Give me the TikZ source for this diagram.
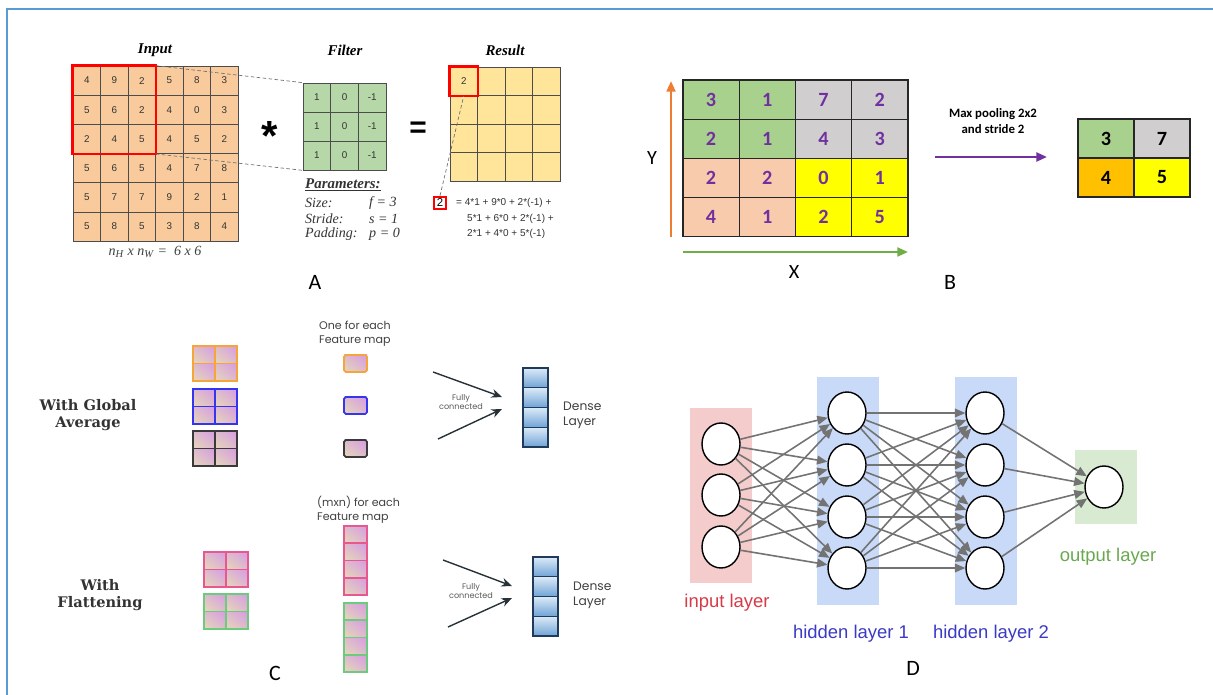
\documentclass[tikz,border=0pt]{standalone}
\usepackage{fontspec}
\setmainfont{Liberation Serif}
\newfontfamily\arialf{Liberation Sans}
\newfontfamily\calibrif{Carlito}
\newfontfamily\poppinsf{Poppins}
\newfontfamily\dejaserif{DejaVu Serif}
\usetikzlibrary{arrows.meta,shapes.geometric,shadings}

% colours
\definecolor{framebl}{HTML}{5B9BD5}
\definecolor{inpeach}{HTML}{F9CB9C}
\definecolor{flgreen}{HTML}{B6D7A8}
\definecolor{resyel}{HTML}{FFE599}
\definecolor{pgreen}{HTML}{A9D18E}
\definecolor{pgray}{HTML}{D0CECE}
\definecolor{ppeach}{HTML}{F8CBAD}
\definecolor{pyel}{HTML}{FFFF00}
\definecolor{porange}{HTML}{FFC000}
\definecolor{ppurple}{HTML}{7030A0}
\definecolor{yorange}{HTML}{ED7D31}
\definecolor{xgreen}{HTML}{70AD47}
\definecolor{mapbeige}{HTML}{E6D8B8}
\definecolor{mapviolet}{HTML}{D79BE3}
\definecolor{mapmid}{HTML}{DDBACD}
\definecolor{mapor}{HTML}{F5A53A}
\definecolor{mapbl}{HTML}{3535F0}
\definecolor{mapbk}{HTML}{3A3A3A}
\definecolor{mappk}{HTML}{E8588F}
\definecolor{mapgr}{HTML}{6CCB7C}
\definecolor{denselt}{HTML}{DCEAF7}
\definecolor{densedk}{HTML}{6FA3D6}
\definecolor{densebd}{HTML}{1F3A5A}
\definecolor{arrowdark}{HTML}{263238}
\definecolor{laypink}{HTML}{F4CCCC}
\definecolor{layblue}{HTML}{C9DAF8}
\definecolor{laygreen}{HTML}{D9EAD3}
\definecolor{inred}{HTML}{D63A47}
\definecolor{hidblue}{HTML}{3A3AC4}
\definecolor{outgreen}{HTML}{6AA84F}

\tikzset{
  gridcell/.style={draw=black!70, line width=0.4pt, inner sep=0pt,
    minimum width=0.55cm, minimum height=0.584cm,
    font=\arialf\fontsize{5.6}{6}\selectfont, text=black!80},
  poolcell/.style={draw=black!85, line width=0.6pt, inner sep=0pt,
    minimum width=1.125cm, minimum height=0.785cm,
    font=\calibrif\bfseries\fontsize{11.5}{12}\selectfont},
  gridtitle/.style={font=\bfseries\itshape\fontsize{8.5}{9}\selectfont},
  paramtxt/.style={anchor=west, font=\itshape\fontsize{8}{9}\selectfont, text=black!80},
  eqline/.style={anchor=west, font=\arialf\fontsize{5.7}{6}\selectfont, text=black!80},
  paneltag/.style={font=\calibrif\fontsize{12.5}{14}\selectfont},
  smalltxt/.style={font=\poppinsf\fontsize{6.3}{8}\selectfont, text=black!75, align=left, anchor=west},
  fctxt/.style={font=\poppinsf\fontsize{4.6}{5.5}\selectfont, text=black!65, align=center},
  sidetxt/.style={font=\dejaserif\bfseries\fontsize{8.3}{9.5}\selectfont, text=black!80, align=center},
  densecell/.style={draw=densebd, line width=0.8pt, top color=denselt, bottom color=densedk,
    minimum width=0.5cm, minimum height=0.395cm, inner sep=0pt},
  fcarrow/.style={draw=arrowdark, line width=0.8pt, -{Stealth[length=6pt,width=5pt]}},
  neuron/.style={ellipse, draw=black, line width=0.8pt, fill=white, inner sep=0pt,
    minimum width=0.76cm, minimum height=0.84cm},
  nnedge/.style={draw=black!55, line width=0.9pt, -{Triangle[length=6pt,width=5pt]}},
  laytxt/.style={font=\arialf\fontsize{10.5}{12}\selectfont},
}

\begin{document}
\begin{tikzpicture}[x=0.02cm, y=-0.02cm]
\useasboundingbox (0,0) rectangle (1213,695);

% Frame
\draw[framebl, line width=1.2pt] (7,695) -- (7,9) -- (1213,9);

% ---------------- A: convolution ----------------
\node[gridtitle] (tin) at (155,50) {Input};
\node[gridtitle] (tfl) at (345,50) {Filter};
\node[gridtitle] (tres) at (505,50) {Result};

% input grid
\foreach \row [count=\r] in {{4,9,2,5,8,3},{5,6,2,4,0,3},{2,4,5,4,5,2},{5,6,5,4,7,8},{5,7,7,9,2,1},{5,8,5,3,8,4}}
  \foreach \v [count=\c] in \row
    \node[gridcell, fill=inpeach] (in-\r-\c) at ({86.75+27.5*(\c-1)},{80.6+29.2*(\r-1)}) {\v};
\draw[red, line width=1.5pt] (in-1-1.north west) rectangle (in-3-3.south east);
\node[font=\itshape\fontsize{8}{9}\selectfont, text=black!75] (insize) at (155,252)
  {n\textsubscript{H} x n\textsubscript{W} = \ 6 x 6};

% filter grid
\foreach \row [count=\r] in {{1,0,-1},{1,0,-1},{1,0,-1}}
  \foreach \v [count=\c] in \row
    \node[gridcell, fill=flgreen, minimum width=0.554cm, minimum height=0.58cm] (fl-\r-\c) at ({316.8+27.7*(\c-1)},{97.5+29*(\r-1)}) {\v};
\draw[dashed, dash pattern=on 2pt off 1.4pt, black!55] (in-1-3.north east) -- (fl-1-1.north west);
\draw[dashed, dash pattern=on 2pt off 1.4pt, black!55] (in-3-3.south east) -- (fl-3-1.south west);

\node[font=\arialf\bfseries\fontsize{24}{24}\selectfont] (star) at (270,136) {*};
\node[font=\arialf\bfseries\fontsize{17}{17}\selectfont] (eqsign) at (418,130) {=};

% parameters
\node[anchor=west, font=\bfseries\itshape\fontsize{8.5}{9}\selectfont, text=black!80] (ptitle) at (299,185) {\underline{Parameters:}};
\node[paramtxt] (psize) at (299,203) {Size:};
\node[paramtxt] (pstride) at (299,219) {Stride:};
\node[paramtxt] (ppad) at (299,234) {Padding:};
\node[paramtxt] (vsize) at (363,203) {f = 3};
\node[paramtxt] (vstride) at (363,219) {s = 1};
\node[paramtxt] (vpad) at (363,234) {p = 0};

% result grid
\foreach \r in {1,...,4}
  \foreach \c in {1,...,4}
    \node[gridcell, fill=resyel, minimum height=0.57cm] (res-\r-\c) at ({463.75+27.5*(\c-1)},{81.25+28.5*(\r-1)}) {\ifnum\r\c=11 2\fi};
\draw[red, line width=1.4pt] (res-1-1.north west) rectangle (res-1-1.south east);

\node[draw=red, line width=1.2pt, inner sep=1.2pt, minimum size=0.25cm, font=\arialf\fontsize{6.5}{7}\selectfont] (two) at (440,203) {2};
\draw[dashed, dash pattern=on 2pt off 1.4pt, black!55] (two.north) -- (res-1-1.south);
\node[eqline] (eq1) at (450,203) {= 4*1 + 9*0 + 2*(-1) +};
\node[eqline] (eq2) at (461,219) {5*1 + 6*0 + 2*(-1) +};
\node[eqline] (eq3) at (461,234) {2*1 + 4*0 + 5*(-1)};

\node[paneltag] (tagA) at (315,282) {A};

% ---------------- B: max pooling ----------------
\foreach \row [count=\r] in {{3/pgreen,1/pgreen,7/pgray,2/pgray},{2/pgreen,1/pgreen,4/pgray,3/pgray},{2/ppeach,2/ppeach,0/pyel,1/pyel},{4/ppeach,1/ppeach,2/pyel,5/pyel}}
  \foreach \v/\fc [count=\c] in \row
    \node[poolcell, fill=\fc, text=ppurple] (pool-\r-\c) at ({711.1+56.25*(\c-1)},{99.6+39.25*(\r-1)}) {\v};

% axes
\coordinate (ybase) at (671,237);
\coordinate (ytip) at (671,81);
\coordinate (xbase) at (683,252);
\coordinate (xtip) at (908,252);
\draw[yorange, line width=1.3pt, -{Triangle[length=6pt,width=5pt]}] (ybase) -- (ytip);
\draw[xgreen, line width=1.3pt, -{Triangle[length=6pt,width=5pt]}] (xbase) -- (xtip);
\node[font=\calibrif\fontsize{11.5}{12}\selectfont] (ylab) at (652,158) {Y};
\node[font=\calibrif\fontsize{11.5}{12}\selectfont] (xlab) at (794,272) {X};

\node[font=\calibrif\bfseries\fontsize{7.3}{9.5}\selectfont, align=center] (ptext) at (993,121) {Max pooling 2x2\\and stride 2};
\coordinate (pa) at (935,157);
\coordinate (pb) at (1047,157);
\draw[ppurple, line width=1.4pt, -{Triangle[length=6pt,width=5pt]}] (pa) -- (pb);

\foreach \row [count=\r] in {{3/pgreen,7/pgray},{4/porange,5/pyel}}
  \foreach \v/\fc [count=\c] in \row
    \node[poolcell, fill=\fc, text=black, minimum width=1.12cm, minimum height=0.78cm] (out-\r-\c) at ({1106+56*(\c-1)},{138.5+39*(\r-1)}) {\v};

\node[paneltag] (tagB) at (950,282) {B};

% ---------------- C: global average vs flattening ----------------
\node[sidetxt] (wga) at (88,415) {With Global\\Average};
\node[sidetxt] (wfl) at (100,595) {With\\Flattening};

% 2x2 feature maps
\foreach \fx/\fy/\fc in {193/346/mapor, 193/389/mapbl, 193/431/mapbk, 204/552/mappk, 204/594/mapgr}{
  \foreach \i in {0,1}
    \foreach \j in {0,1}
      \shade[lower left=mapbeige, upper right=mapviolet, upper left=mapmid, lower right=mapmid]
        ({\fx+22*\i},{\fy+17.5*\j}) rectangle ++(22,17.5);
  \draw[\fc, line width=0.9pt] (\fx,\fy) rectangle ++(44,35)
    (\fx+22,\fy) -- ++(0,35) (\fx,\fy+17.5) -- ++(44,0);
}

% one value for each map
\node[smalltxt] (oneeach) at (313,334) {One for each\\Feature map};
\foreach \fy/\fc in {355/mapor, 397/mapbl, 440/mapbk}{
  \shade[lower left=mapbeige, upper right=mapviolet, upper left=mapmid, lower right=mapmid]
    (344,\fy) rectangle ++(23,17);
  \draw[\fc, line width=1pt, rounded corners=1pt] (344,\fy) rectangle ++(23,17);
}

% m x n values for each map
\node[smalltxt] (mneach) at (311,510) {(mxn) for each\\Feature map};
\foreach \fy/\fc in {526/mappk, 603/mapgr}
  \foreach \i in {0,...,3}{
    \shade[lower left=mapbeige, upper right=mapviolet, upper left=mapmid, lower right=mapmid]
      (344,\fy+17.25*\i) rectangle ++(23,17.25);
    \draw[\fc, line width=0.9pt] (344,\fy+17.25*\i) rectangle ++(23,17.25);
  }

% dense layers
\foreach \i in {1,...,4}
  \node[densecell] (dga-\i) at (535.5,{377.9+19.75*(\i-1)}) {};
\foreach \i in {1,...,4}
  \node[densecell] (dfl-\i) at (545.5,{566.9+19.75*(\i-1)}) {};
\node[smalltxt, font=\poppinsf\fontsize{7}{8.5}\selectfont] (dtga) at (557,415) {Dense\\Layer};
\node[smalltxt, font=\poppinsf\fontsize{7}{8.5}\selectfont] (dtfl) at (567,595) {Dense\\Layer};

% fully connected arrows
\coordinate (ga1) at (433,372);
\coordinate (ga2) at (502,397);
\coordinate (ga3) at (438,439);
\coordinate (ga4) at (502,409);
\draw[fcarrow] (ga1) -- (ga2);
\draw[fcarrow] (ga3) -- (ga4);
\node[fctxt] (fcga) at (461,402) {Fully\\connected};
\coordinate (fl1) at (443,560);
\coordinate (fl2) at (512,586);
\coordinate (fl3) at (448,627);
\coordinate (fl4) at (512,598);
\draw[fcarrow] (fl1) -- (fl2);
\draw[fcarrow] (fl3) -- (fl4);
\node[fctxt] (fcfl) at (471,591) {Fully\\connected};

\node[paneltag] (tagC) at (275,673) {C};

% ---------------- D: neural network ----------------
\fill[laypink] (690,408) rectangle (752,583);
\fill[layblue] (817,377) rectangle (879,605);
\fill[layblue] (955,377) rectangle (1017,605);
\fill[laygreen] (1075,450) rectangle (1137,524);

\foreach \i/\y in {1/444,2/495,3/547}
  \node[neuron] (il-\i) at (721,\y) {};
\foreach \i/\y in {1/413,2/465,3/517,4/568}{
  \node[neuron] (ha-\i) at (847,\y) {};
  \node[neuron] (hb-\i) at (985,\y) {};
}
\node[neuron] (ol) at (1104,487) {};

\foreach \i in {1,2,3}
  \foreach \j in {1,...,4}
    \draw[nnedge] (il-\i) -- (ha-\j);
\foreach \i in {1,...,4}
  \foreach \j in {1,...,4}
    \draw[nnedge] (ha-\i) -- (hb-\j);
\foreach \i in {1,...,4}
  \draw[nnedge] (hb-\i) -- (ol);

\node[laytxt, text=inred] (illab) at (727,603) {input layer};
\node[laytxt, text=hidblue] (halab) at (851,634) {hidden layer 1};
\node[laytxt, text=hidblue] (hblab) at (991,634) {hidden layer 2};
\node[laytxt, text=outgreen] (ollab) at (1108,557) {output layer};

\node[paneltag] (tagD) at (913,668) {D};

\end{tikzpicture}
\end{document}
